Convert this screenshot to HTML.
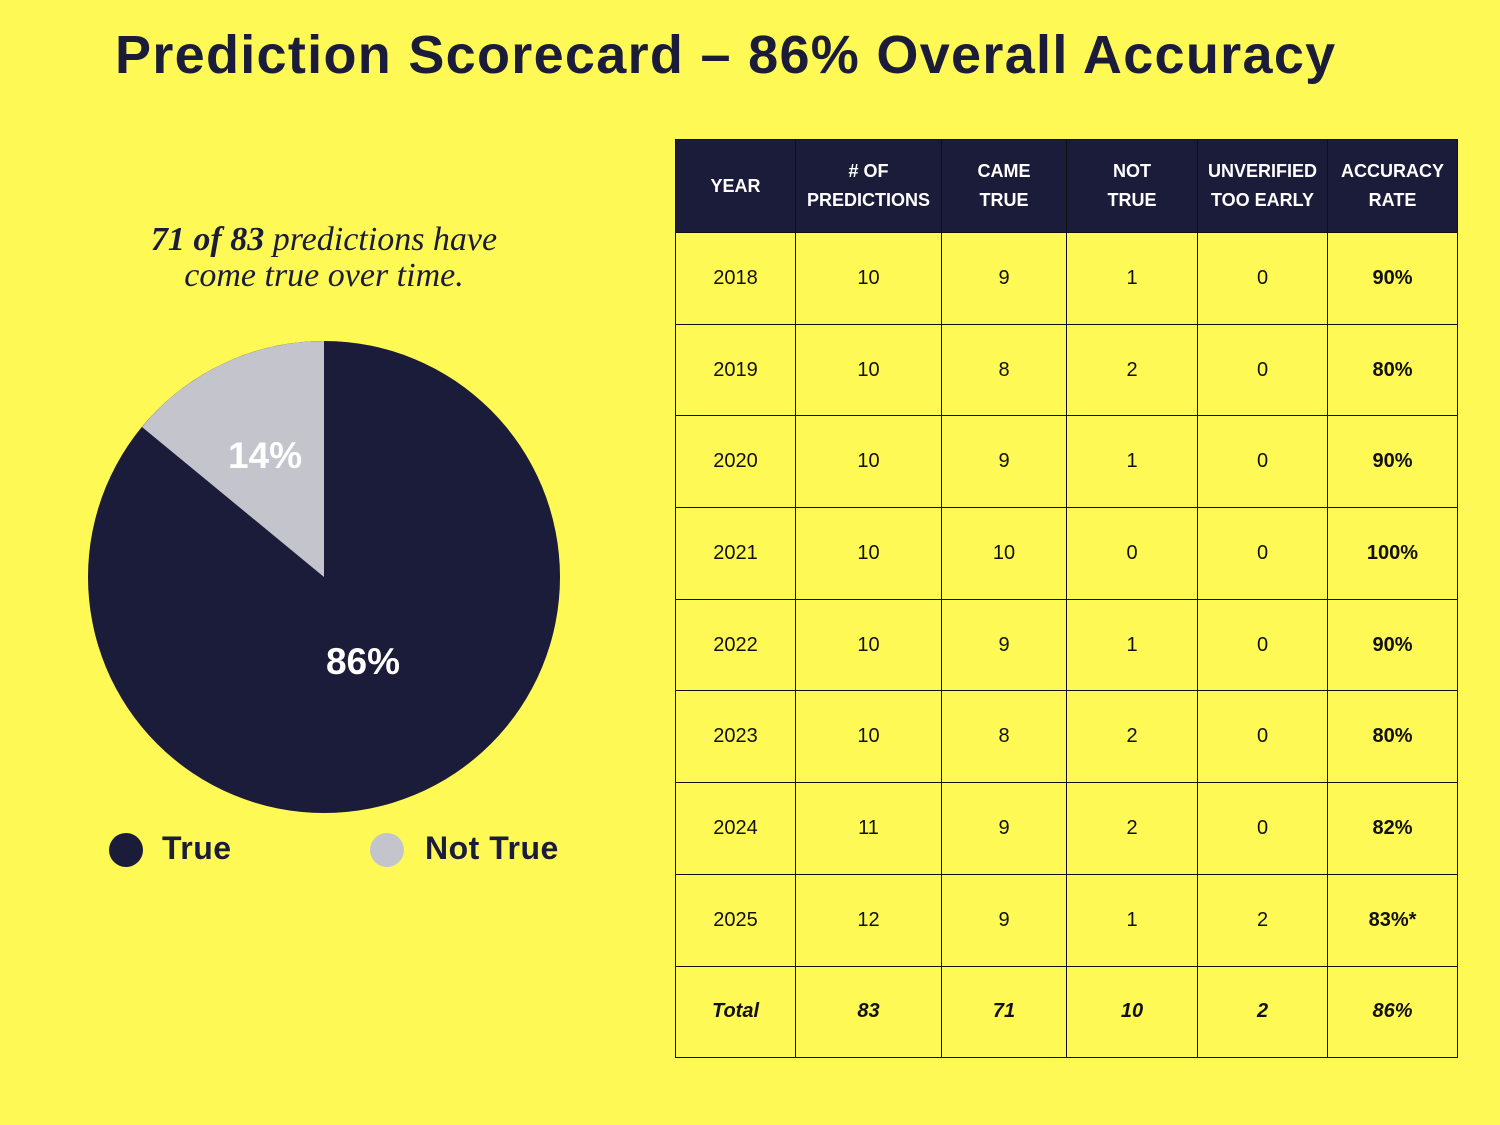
<!DOCTYPE html>
<html><head><style>
body{margin:0;width:1500px;height:1125px;background:#fef955;font-family:"Liberation Sans",sans-serif;position:relative;overflow:hidden;color:#111}
h1{position:absolute;left:115px;top:24px;margin:0;font-size:54px;font-weight:bold;color:#1b1b3a;letter-spacing:1.3px}
.sub{position:absolute;left:74px;width:500px;top:222px;text-align:center;font-family:"Liberation Serif",serif;font-style:italic;font-size:34px;line-height:36px;color:#1b1b3a}
table{position:absolute;left:675px;top:139px;border-collapse:collapse}
td,th{border:1.5px solid #111;text-align:center;font-size:20px;padding:0}
th{background:#1b1b3a;color:#fff;font-size:18px;line-height:29px;height:92px;font-weight:bold}
td{height:90.7px}
.b{font-weight:bold}
tr.t td{font-weight:bold;font-style:italic}
.leg{position:absolute;top:830px;font-size:32px;font-weight:bold;color:#1b1b3a;letter-spacing:0.5px}
.dot{position:absolute;width:34px;height:34px;border-radius:50%}
</style></head><body>
<h1>Prediction Scorecard – 86% Overall Accuracy</h1>
<div class="sub"><b>71 of 83</b> predictions have<br>come true over time.</div>
<svg style="position:absolute;left:0;top:0" width="660" height="1125">
<circle cx="324" cy="577" r="236" fill="#1b1b3a"/>
<path d="M324 577 L324 341 A236 236 0 0 0 142 427 Z" fill="#c4c4cc"/>
<text x="265" y="468" fill="#fff" font-size="37" font-weight="bold" text-anchor="middle" font-family="Liberation Sans">14%</text>
<text x="363" y="674" fill="#fff" font-size="37" font-weight="bold" text-anchor="middle" font-family="Liberation Sans">86%</text>
</svg>
<div class="dot" style="left:109px;top:833px;background:#1b1b3a"></div>
<div class="leg" style="left:162px">True</div>
<div class="dot" style="left:370px;top:833px;background:#c4c4cc"></div>
<div class="leg" style="left:425px">Not True</div>
<table>
<tr><th style="width:119px">YEAR</th><th style="width:145px"># OF<br>PREDICTIONS</th><th style="width:124px">CAME<br>TRUE</th><th style="width:130px">NOT<br>TRUE</th><th style="width:129px">UNVERIFIED<br>TOO EARLY</th><th style="width:129px">ACCURACY<br>RATE</th></tr>
<tr><td>2018</td><td>10</td><td>9</td><td>1</td><td>0</td><td class="b">90%</td></tr>
<tr><td>2019</td><td>10</td><td>8</td><td>2</td><td>0</td><td class="b">80%</td></tr>
<tr><td>2020</td><td>10</td><td>9</td><td>1</td><td>0</td><td class="b">90%</td></tr>
<tr><td>2021</td><td>10</td><td>10</td><td>0</td><td>0</td><td class="b">100%</td></tr>
<tr><td>2022</td><td>10</td><td>9</td><td>1</td><td>0</td><td class="b">90%</td></tr>
<tr><td>2023</td><td>10</td><td>8</td><td>2</td><td>0</td><td class="b">80%</td></tr>
<tr><td>2024</td><td>11</td><td>9</td><td>2</td><td>0</td><td class="b">82%</td></tr>
<tr><td>2025</td><td>12</td><td>9</td><td>1</td><td>2</td><td class="b">83%*</td></tr>
<tr class="t"><td>Total</td><td>83</td><td>71</td><td>10</td><td>2</td><td>86%</td></tr>
</table>
</body></html>
